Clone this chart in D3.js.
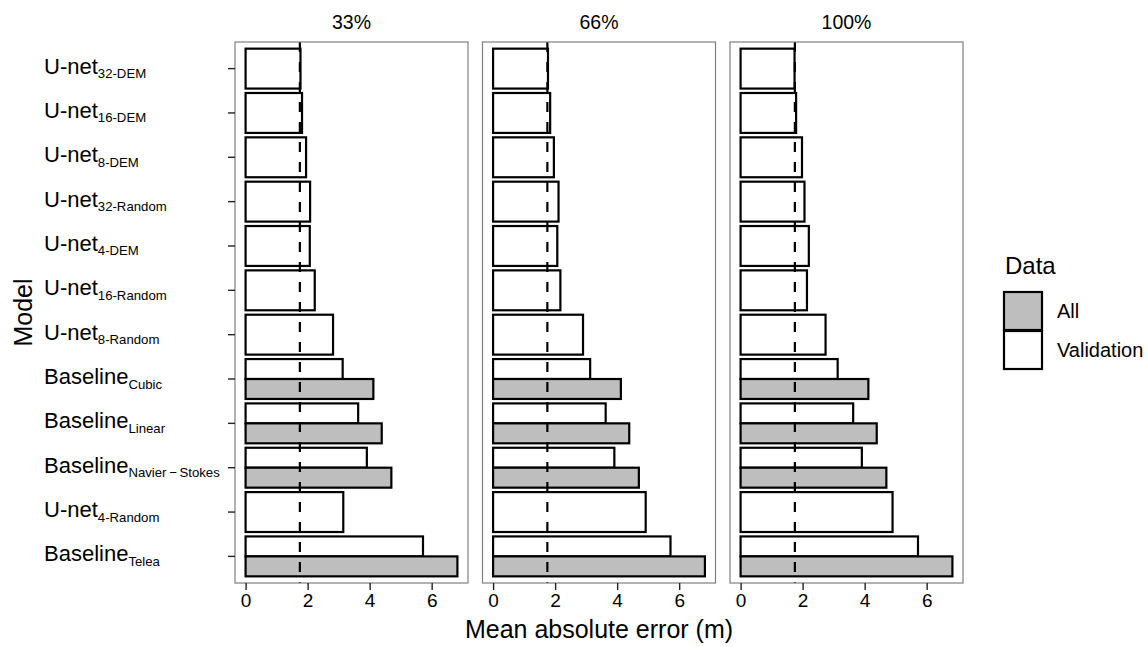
<!DOCTYPE html>
<html>
<head>
<meta charset="utf-8">
<script src="https://cdn.jsdelivr.net/npm/d3@7.9.0/dist/d3.min.js"></script>
<style>
  body { margin: 0; background: #fff; }
  svg text { font-family: "Liberation Sans", Arial, sans-serif; fill: #000; }
</style>
</head>
<body>
<svg id="chart" width="1148" height="647"></svg>
<script>
// model rows, top to bottom
const modelMain = ['U-net', 'U-net', 'U-net', 'U-net', 'U-net', 'U-net', 'U-net',
  'Baseline', 'Baseline', 'Baseline', 'U-net', 'Baseline'];
const modelSub = ['32-DEM', '16-DEM', '8-DEM', '32-Random', '4-DEM', '16-Random', '8-Random',
  'Cubic', 'Linear', 'Navier\u2009\u2212\u2009Stokes', '4-Random', 'Telea'];

const panels = ['33%', '66%', '100%'];

// mean absolute error (m), validation data
const validation33 = [1.77, 1.82, 1.95, 2.08, 2.07, 2.23, 2.82, 3.13, 3.63, 3.91, 3.15, 5.72];
const validation66 = [1.77, 1.84, 1.96, 2.11, 2.07, 2.17, 2.90, 3.13, 3.63, 3.91, 4.92, 5.72];
const validation100 = [1.74, 1.79, 1.98, 2.06, 2.20, 2.14, 2.74, 3.13, 3.63, 3.91, 4.90, 5.72];

// mean absolute error (m), all data (baselines only)
const all33 = [null, null, null, null, null, null, null, 4.12, 4.39, 4.70, null, 6.83];
const all66 = [null, null, null, null, null, null, null, 4.12, 4.39, 4.70, null, 6.83];
const all100 = [null, null, null, null, null, null, null, 4.12, 4.39, 4.70, null, 6.83];

const refLine = 1.75;
const xTicks = [0, 2, 4, 6];
const legendKeys = ['All', 'Validation'];

const validationByPanel = [validation33, validation66, validation100];
const allByPanel = [all33, all66, all100];

const svg = d3.select('#chart');

const panelLeft = 235;
const panelW = 233;
const panelGap = 14.5;
const plotTop = 42;
const plotBottom = 583;

const rows = d3.range(modelSub.length);
const y = d3.scalePoint().domain(rows).range([plotTop, plotBottom]).padding(0.6);
const step = y.step();
const barH = step * 0.9;

const maxVal = d3.max([...validationByPanel.flat(), ...allByPanel.flat()]);
const pad = maxVal * 0.05;

const fillColor = { All: '#bebebe', Validation: '#ffffff' };

panels.forEach((p, i) => {
  const x0 = panelLeft + i * (panelW + panelGap);
  const x = d3.scaleLinear().domain([-pad, maxVal + pad]).range([x0, x0 + panelW]);
  const g = svg.append('g');

  // strip label
  g.append('text')
    .attr('x', x0 + panelW / 2)
    .attr('y', 29)
    .attr('text-anchor', 'middle')
    .style('font-size', '19.5px')
    .text(p);

  // bars
  const bars = [];
  rows.forEach((r) => {
    const v = validationByPanel[i][r];
    const a = allByPanel[i][r];
    if (a == null) {
      bars.push({ r, value: v, key: 'Validation', y0: y(r) - barH / 2, h: barH });
    } else {
      bars.push({ r, value: v, key: 'Validation', y0: y(r) - barH / 2, h: barH / 2 });
      bars.push({ r, value: a, key: 'All', y0: y(r), h: barH / 2 });
    }
  });

  g.selectAll('rect.bar')
    .data(bars)
    .join('rect')
    .attr('class', 'bar')
    .attr('x', x(0))
    .attr('y', (d) => d.y0)
    .attr('width', (d) => x(d.value) - x(0))
    .attr('height', (d) => d.h)
    .attr('fill', (d) => fillColor[d.key])
    .attr('stroke', '#000')
    .attr('stroke-width', 2.2);

  // dashed reference line
  g.append('line')
    .attr('x1', x(refLine))
    .attr('x2', x(refLine))
    .attr('y1', plotTop)
    .attr('y2', plotBottom)
    .attr('stroke', '#000')
    .attr('stroke-width', 2.2)
    .attr('stroke-dasharray', '10,10');

  // panel border
  g.append('rect')
    .attr('x', x0)
    .attr('y', plotTop)
    .attr('width', panelW)
    .attr('height', plotBottom - plotTop)
    .attr('fill', 'none')
    .attr('stroke', '#7f7f7f')
    .attr('stroke-width', 1.2);

  // x axis
  const xAxis = g.append('g')
    .attr('transform', `translate(0,${plotBottom})`)
    .call(d3.axisBottom(x).tickValues(xTicks).tickSize(7).tickPadding(4));
  xAxis.select('.domain').remove();
  xAxis.selectAll('line').attr('stroke', '#222').attr('stroke-width', 1.4);
  xAxis.selectAll('text')
    .attr('font-family', null)
    .style('font-size', '19px')
    .attr('fill', '#000');
});

// y axis ticks and labels
const yAxis = svg.append('g');
yAxis.selectAll('line')
  .data(rows)
  .join('line')
  .attr('x1', panelLeft - 7)
  .attr('x2', panelLeft)
  .attr('y1', (d) => y(d))
  .attr('y2', (d) => y(d))
  .attr('stroke', '#222')
  .attr('stroke-width', 1.4);

const yLabels = yAxis.selectAll('text')
  .data(rows)
  .join('text')
  .attr('x', 44)
  .attr('y', (d) => y(d) + 5)
  .style('font-size', '22px');
yLabels.append('tspan').text((d) => modelMain[d]);
yLabels.append('tspan')
  .attr('dy', 4.5)
  .style('font-size', '13.2px')
  .text((d) => modelSub[d]);

// axis titles
svg.append('text')
  .attr('transform', `translate(32,${(plotTop + plotBottom) / 2}) rotate(-90)`)
  .attr('text-anchor', 'middle')
  .style('font-size', '25px')
  .text('Model');

svg.append('text')
  .attr('x', panelLeft + (3 * panelW + 2 * panelGap) / 2)
  .attr('y', 638)
  .attr('text-anchor', 'middle')
  .style('font-size', '25px')
  .text('Mean absolute error (m)');

// legend
const legend = svg.append('g');
legend.append('text')
  .attr('x', 1005)
  .attr('y', 274)
  .style('font-size', '24px')
  .text('Data');

const keySize = 38;
legendKeys.forEach((k, i) => {
  const ky = 292 + i * (keySize + 1);
  legend.append('rect')
    .attr('x', 1004)
    .attr('y', ky)
    .attr('width', keySize)
    .attr('height', keySize)
    .attr('fill', fillColor[k])
    .attr('stroke', '#000')
    .attr('stroke-width', 2.2);
  legend.append('text')
    .attr('x', 1057)
    .attr('y', ky + keySize / 2 + 7)
    .style('font-size', '20px')
    .text(k);
});
</script>
</body>
</html>
